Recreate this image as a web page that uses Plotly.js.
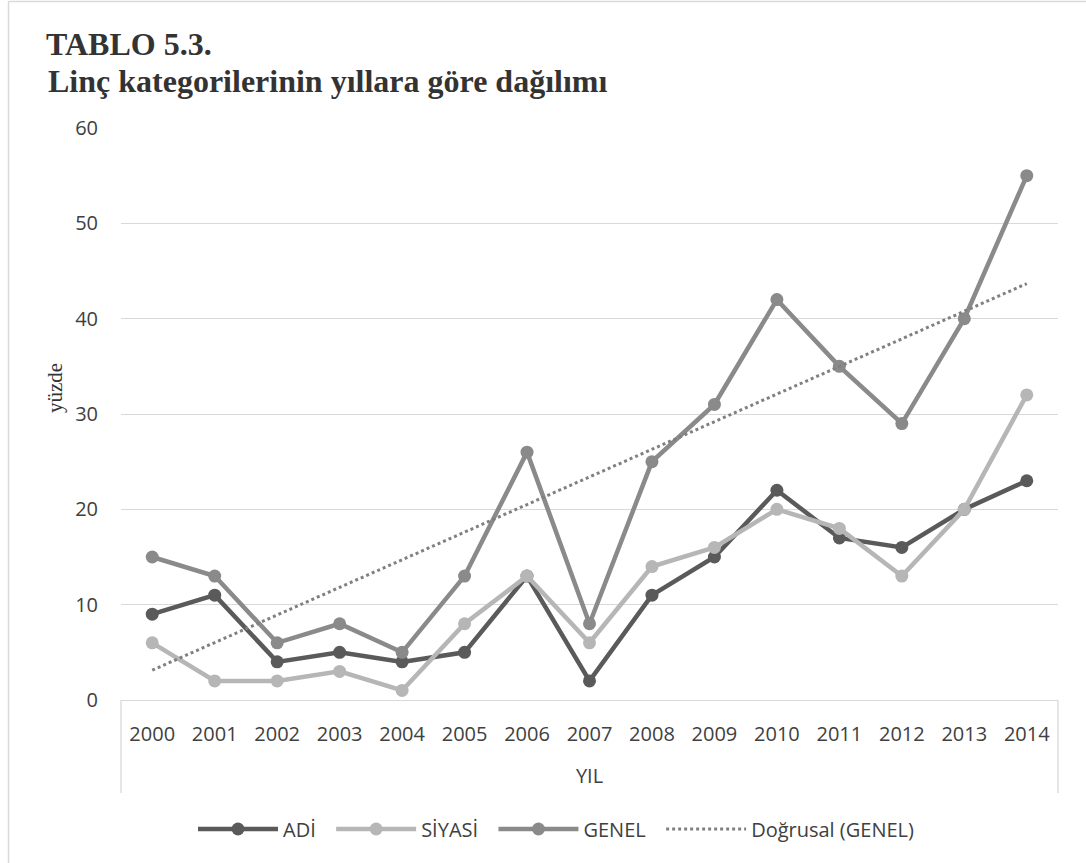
<!DOCTYPE html>
<html>
<head>
<meta charset="utf-8">
<script src="https://cdn.plot.ly/plotly-3.0.1.min.js"></script>
<style>html,body{margin:0;padding:0;background:#fff;}#chart{width:1086px;height:863px;}</style>
</head>
<body>
<div id="chart"></div>
<script>
const years = ['2000','2001','2002','2003','2004','2005','2006','2007','2008','2009','2010','2011','2012','2013','2014'];
const adi = [9, 11, 4, 5, 4, 5, 13, 2, 11, 15, 22, 17, 16, 20, 23];
const siyasi = [6, 2, 2, 3, 1, 8, 13, 6, 14, 16, 20, 18, 13, 20, 32];
const genel = [15, 13, 6, 8, 5, 13, 26, 8, 25, 31, 42, 35, 29, 40, 55];
const seriesNames = ['ADİ', 'SİYASİ', 'GENEL', 'Doğrusal (GENEL)'];
const titleLines = ['TABLO 5.3.', 'Linç kategorilerinin yıllara göre dağılımı'];

// Linear trendline (least squares) of GENEL, as Excel's "Doğrusal" trendline
const n = genel.length;
const idx = genel.map((_, i) => i);
const mx = idx.reduce((a, b) => a + b, 0) / n;
const my = genel.reduce((a, b) => a + b, 0) / n;
let sxy = 0, sxx = 0;
idx.forEach((x, i) => { sxy += (x - mx) * (genel[i] - my); sxx += (x - mx) * (x - mx); });
const slope = sxy / sxx;
const intercept = my - slope * mx;
const trend = idx.map(x => intercept + slope * x);

const tickFont = {family: 'Open Sans, sans-serif', size: 20, color: '#404040'};
const serif = 'Liberation Serif, Times New Roman, serif';
const L = 121, R = 28, T = 128, B = 163, W = 1086, H = 863;
const pw = W - L - R, ph = H - T - B;
const px = x => (x - L) / pw;
const py = y => (H - B - y) / ph;
const pad = '\u00a0\u00a0'; // extra spacing between legend entries

function lineTrace(y, name, color) {
  return {
    x: years, y: y, name: name + pad, type: 'scatter', mode: 'lines+markers',
    line: {color: color, width: 4.5},
    marker: {color: color, size: 13},
    hovertemplate: '%{x}: %{y}<extra>' + name + '</extra>'
  };
}

const data = [
  lineTrace(adi, seriesNames[0], '#5a5a5a'),
  lineTrace(siyasi, seriesNames[1], '#b6b6b6'),
  lineTrace(genel, seriesNames[2], '#8a8a8a'),
  {x: years, y: trend, name: seriesNames[3], type: 'scatter', mode: 'lines',
   line: {color: '#808080', width: 3, dash: 'dot'}}
];

const layout = {
  width: W, height: H,
  margin: {l: L, r: R, t: T, b: B},
  paper_bgcolor: '#ffffff', plot_bgcolor: '#ffffff',
  showlegend: true,
  title: {
    text: '<b>' + titleLines[0] + '</b>',
    font: {family: serif, size: 32, color: '#333333'},
    xref: 'container', yref: 'container', x: 46 / W, xanchor: 'left',
    y: 1 - 44 / H, yanchor: 'middle'
  },
  xaxis: {
    type: 'category', range: [-0.5, 14.5],
    showgrid: false, zeroline: false,
    showline: true, linecolor: '#d9d9d9', linewidth: 1.3,
    ticks: '', tickfont: tickFont, ticklabelstandoff: 16,
    title: {text: 'YIL', font: tickFont, standoff: 22},
    fixedrange: true
  },
  yaxis: {
    range: [0, 60], dtick: 10, tick0: 0,
    showgrid: true, gridcolor: '#d9d9d9', gridwidth: 1.3,
    zeroline: false, showline: false,
    ticks: '', tickfont: tickFont, ticklabelstandoff: 22,
    fixedrange: true
  },
  legend: {
    orientation: 'h', x: px(193), xanchor: 'left', y: py(829), yanchor: 'middle',
    font: {family: 'Open Sans, sans-serif', size: 20, color: '#404040'},
    itemwidth: 80, bgcolor: 'rgba(0,0,0,0)'
  },
  annotations: [
    {text: '<b>' + titleLines[1] + '</b>', xref: 'paper', yref: 'paper',
     x: px(46), y: py(81), xanchor: 'left', yanchor: 'middle', showarrow: false,
     font: {family: serif, size: 32, color: '#333333'}},
    {text: 'yüzde', textangle: -90, xref: 'paper', yref: 'paper',
     x: px(55), y: py(388), xanchor: 'center', yanchor: 'middle', showarrow: false,
     font: {family: serif, size: 21, color: '#333333'}}
  ],
  shapes: [
    {type: 'line', xref: 'paper', yref: 'paper', x0: 0, x1: 0, y0: 0, y1: py(793), line: {color: '#d9d9d9', width: 1.3}},
    {type: 'line', xref: 'paper', yref: 'paper', x0: 1, x1: 1, y0: 0, y1: py(793), line: {color: '#d9d9d9', width: 1.3}},
    {type: 'line', xref: 'paper', yref: 'paper', x0: px(8.5), x1: px(1086), y0: py(1.5), y1: py(1.5), line: {color: '#d9d9d9', width: 1.5}},
    {type: 'line', xref: 'paper', yref: 'paper', x0: px(8.5), x1: px(8.5), y0: py(1.5), y1: py(863), line: {color: '#d9d9d9', width: 1.5}}
  ]
};

Plotly.newPlot('chart', data, layout, {displayModeBar: false});
</script>
</body>
</html>
